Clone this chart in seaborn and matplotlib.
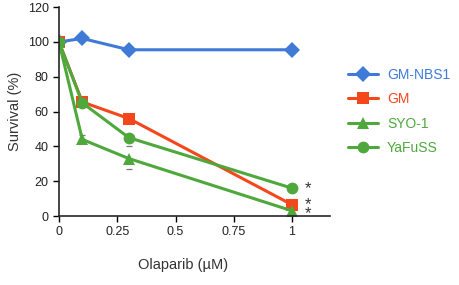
import numpy as np
import pandas as pd
import matplotlib
matplotlib.use("Agg")
import matplotlib.pyplot as plt
import seaborn as sns

# valores
doses = [0, 0.1, 0.3, 1]
gm_nbs1 = [100, 102, 95.5, 95.5]
gm = [100, 65.5, 56, 6.5]
syo1 = [100, 44, 33, 3]
yafuss = [100, 65, 45, 16]

# barras de erro (somente as visiveis)
err_x = [0.1, 0.3, 0.3]
err_y = [44, 33, 45]
err_lo = [0, 6, 4.5]
err_hi = [2.5, 0, 0]

stars_y = [16, 6.5, 1.5]
series = ["GM-NBS1", "GM", "SYO-1", "YaFuSS"]
colors = {"GM-NBS1": "#3F7BD6", "GM": "#F4471C", "SYO-1": "#4EA83C", "YaFuSS": "#4EA83C"}
markers = {"GM-NBS1": "D", "GM": "s", "SYO-1": "^", "YaFuSS": "o"}

df = pd.DataFrame({
    "dose": doses * 4,
    "survival": gm_nbs1 + gm + syo1 + yafuss,
    "line": [s for s in series for _ in doses],
})

sns.set_style("ticks")
plt.rcParams["font.family"] = ["Liberation Sans", "DejaVu Sans"]

fig = plt.figure(figsize=(4.59, 2.85), dpi=100)
ax = fig.add_axes([0.1285, 0.242, 0.5905, 0.733])

# so os "caps" aparecem na figura original
ax.errorbar(err_x, err_y, yerr=[err_lo, err_hi], fmt="none", ecolor="#777777",
            elinewidth=0, capsize=2.5, capthick=0.9, zorder=1)

sns.lineplot(data=df, x="dose", y="survival", hue="line", style="line",
             hue_order=series, style_order=series, palette=colors, markers=markers,
             dashes=False, linewidth=2.2, markersize=8.5, markeredgewidth=0, ax=ax, zorder=2)

# asteriscos: o de cima sozinho, os dois de baixo empilhados
ax.text(1.07, stars_y[0], "*", ha="center", va="center", fontsize=12, color="#333333")
ax.text(1.07, np.mean(stars_y[1:]), "*\n*", ha="center", va="center", fontsize=12,
        linespacing=0.5, color="#333333")

ax.set_xlim(0, 1.163)
ax.set_ylim(0, 120)
ax.set_xticks([0, 0.25, 0.5, 0.75, 1])
ax.set_xticklabels(["0", "0.25", "0.5", "0.75", "1"])
ax.set_yticks(range(0, 121, 20))
ax.tick_params(labelsize=9, length=4, width=1, color="black", labelcolor="#222222")
ax.spines["left"].set_linewidth(1.2)
ax.spines["bottom"].set_linewidth(1.2)
sns.despine(ax=ax)
ax.set_xlabel("Olaparib (\u00b5M)", fontsize=10.5, color="#333333")
ax.xaxis.set_label_coords(0.457, -0.2)
ax.set_ylabel("Survival (%)", fontsize=10.5, color="#333333")

leg = ax.legend(loc="upper left", bbox_to_anchor=(1.02, 0.77), frameon=False,
                fontsize=10, handlelength=2.2, labelspacing=0.75, handletextpad=0.6)
for t, s in zip(leg.get_texts(), series):
    t.set_color(colors[s])

fig.savefig("out.png", dpi=100)
